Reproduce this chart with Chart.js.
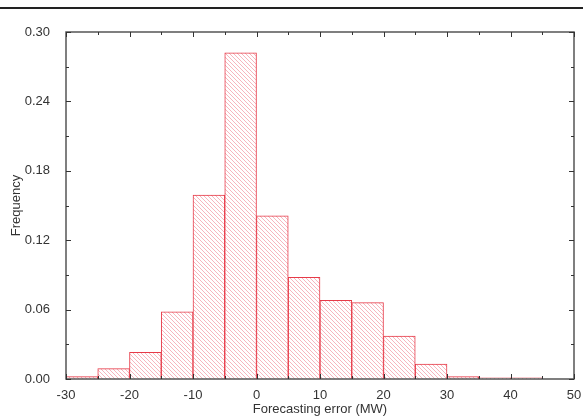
<!DOCTYPE html>
<html>
<head>
<meta charset="utf-8">
<title>Forecasting error histogram</title>
<style>
  html, body { margin: 0; padding: 0; background: #fff; }
  .wrap { position: relative; width: 583px; height: 417px; overflow: hidden; }
  .topline { position: absolute; left: 0; top: 7px; width: 583px; height: 2px; background: #222; }
  canvas { position: absolute; left: 0; top: 0; }
</style>
</head>
<body>
<div class="wrap">
  <canvas id="hist" width="583" height="417"></canvas>
  <div class="topline"></div>
</div>
<script src="https://cdn.jsdelivr.net/npm/chart.js@4"></script>
<script>
// histogram bins (MW), width 5
const binStarts = [-30, -25, -20, -15, -10, -5, 0, 5, 10, 15, 20, 25, 30, 35, 40, 45];
const binWidth = 5;
const frequency = [0.002, 0.009, 0.023, 0.058, 0.159, 0.282, 0.141, 0.088, 0.068, 0.066, 0.037, 0.013, 0.002, 0.001, 0.001, 0];
const xTicks = [-30, -20, -10, 0, 10, 20, 30, 40, 50];
const yTicks = [0, 0.06, 0.12, 0.18, 0.24, 0.30];

// diagonal hatch
function hatch() {
  const s = 4;
  const c = document.createElement('canvas');
  c.width = s; c.height = s;
  const g = c.getContext('2d');
  g.fillStyle = '#fff';
  g.fillRect(0, 0, s, s);
  g.strokeStyle = 'rgba(238,110,125,0.5)';
  g.lineWidth = 1;
  g.beginPath();
  for (const k of [-s, 0, s]) { g.moveTo(k, 0); g.lineTo(k + s, s); }
  g.stroke();
  return g.createPattern(c, 'repeat');
}

// frame + inward ticks on all four sides
const frameTicks = {
  id: 'frameTicks',
  afterDraw(chart) {
    const { ctx, chartArea: a, scales: { x, y } } = chart;
    ctx.save();
    ctx.strokeStyle = '#555';
    ctx.lineWidth = 1.5;
    ctx.strokeRect(a.left, a.top, a.right - a.left, a.bottom - a.top);
    ctx.strokeStyle = '#333';
    ctx.lineWidth = 1;
    ctx.beginPath();
    for (let v = -30; v <= 50; v += 5) {
      const px = Math.round(x.getPixelForValue(v)) + 0.5;
      const len = v % 10 === 0 ? 5 : 3;
      ctx.moveTo(px, a.bottom); ctx.lineTo(px, a.bottom - len);
      ctx.moveTo(px, a.top); ctx.lineTo(px, a.top + len);
    }
    for (let i = 0; i <= 10; i++) {
      const v = i * 0.03;
      const py = Math.round(y.getPixelForValue(v)) + 0.5;
      const len = i % 2 === 0 ? 5 : 3;
      ctx.moveTo(a.left, py); ctx.lineTo(a.left + len, py);
      ctx.moveTo(a.right, py); ctx.lineTo(a.right - len, py);
    }
    ctx.stroke();
    ctx.restore();
  }
};

new Chart(document.getElementById('hist'), {
  type: 'bar',
  data: {
    datasets: [{
      data: binStarts.map((s, i) => ({ x: s + binWidth / 2, y: frequency[i] })),
      backgroundColor: hatch(),
      borderColor: '#e63a48',
      borderWidth: 1,
      barPercentage: 1,
      categoryPercentage: 1
    }]
  },
  options: {
    responsive: false,
    animation: false,
    layout: { padding: { left: 0, top: 32, right: 9, bottom: 0 } },
    plugins: { legend: { display: false }, tooltip: { enabled: false } },
    scales: {
      x: {
        type: 'linear',
        offset: false,
        min: -30, max: 50,
        afterBuildTicks: s => { s.ticks = xTicks.map(v => ({ value: v })); },
        afterFit: s => { s.height = 38; },
        grid: { display: false, offset: false },
        border: { display: false },
        ticks: { color: '#333', padding: 1, font: { family: 'Liberation Sans', size: 13 }, maxRotation: 0 },
        title: { display: true, text: 'Forecasting error (MW)', color: '#333', padding: 0, font: { family: 'Liberation Sans', size: 13 } }
      },
      y: {
        min: 0, max: 0.3,
        afterBuildTicks: s => { s.ticks = yTicks.map(v => ({ value: v })); },
        afterFit: s => { s.width = 66; },
        grid: { display: false },
        border: { display: false },
        ticks: { color: '#333', padding: 8, font: { family: 'Liberation Sans', size: 13 }, callback: v => v.toFixed(2) },
        title: { display: true, text: 'Frequency', color: '#333', padding: 9, font: { family: 'Liberation Sans', size: 13 } }
      }
    }
  },
  plugins: [frameTicks]
});
</script>
</body>
</html>
